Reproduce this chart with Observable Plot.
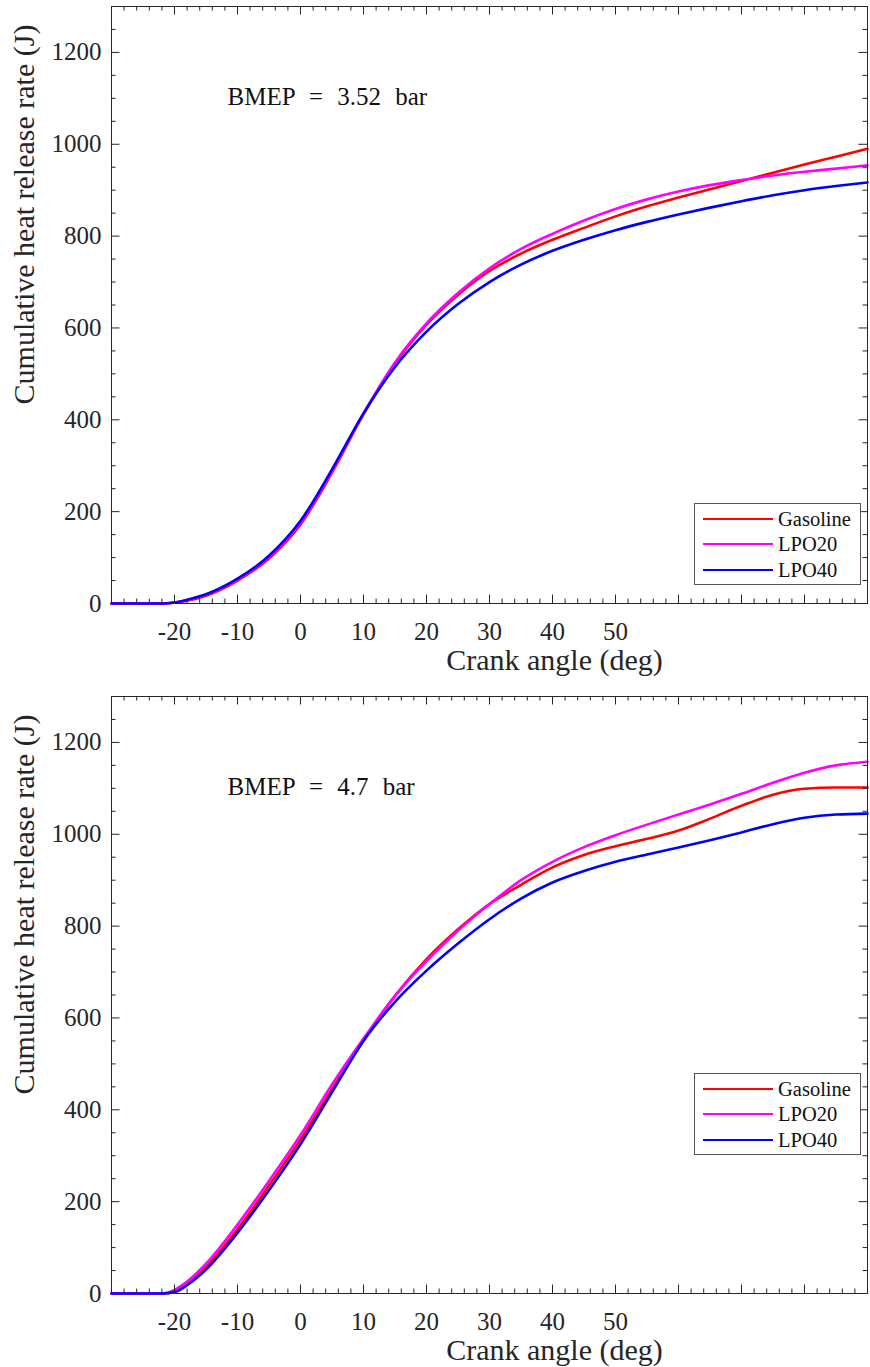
<!DOCTYPE html>
<html>
<head>
<meta charset="utf-8">
<script src="https://cdn.jsdelivr.net/npm/d3@7"></script>
<script src="https://cdn.jsdelivr.net/npm/@observablehq/plot@0.6"></script>
<style>
  html, body { margin: 0; padding: 0; background: #fff; }
  #wrap { position: relative; width: 870px; height: 1367px; overflow: hidden; font-family: "Liberation Serif", "Times New Roman", serif; color: #262626; }
  .panel { position: absolute; left: 0; }
  .panel svg { display: block; overflow: visible; }
  .panel svg text { font-family: "Liberation Serif", "Times New Roman", serif !important; }
  .legend { position: absolute; box-sizing: border-box; border: 1px solid #555; background: #fff; }
  .legend .sw { position: absolute; left: 8px; width: 70px; height: 2.6px; }
  .legend .lb { position: absolute; left: 83px; height: 24px; line-height: 24px; font-size: 20.5px; white-space: nowrap; color: #111; }
</style>
</head>
<body>
<div id="wrap"></div>
<script>
// ---------- data ----------
const angles = [-30, -25, -22, -20, -18, -15, -10, -5, 0, 5, 10, 15, 20, 25, 30, 35, 40, 45, 50, 55, 60, 65, 70, 75, 80, 85, 90];

// Panel 1: BMEP = 3.52 bar
const gasoline1 = [0, 0, 0, 2, 6, 17, 50, 98, 172, 285, 412, 522, 607, 672, 724, 762, 792, 818, 843, 865, 884, 902, 920, 938, 956, 973, 990];
const lpo20_1   = [0, 0, 0, 2, 7, 19, 52, 101, 176, 288, 414, 525, 610, 676, 730, 772, 805, 834, 859, 880, 897, 911, 922, 932, 940, 947, 954];
const lpo40_1   = [0, 0, 0, 2, 8, 20, 54, 104, 180, 292, 414, 515, 592, 652, 700, 738, 768, 792, 813, 831, 847, 862, 876, 889, 900, 909, 917];

// Panel 2: BMEP = 4.7 bar
const gasoline2 = [0, 0, 0, 4, 20, 58, 140, 235, 335, 445, 552, 648, 728, 793, 848, 890, 928, 955, 974, 990, 1008, 1034, 1062, 1086, 1099, 1102, 1102];
const lpo20_2   = [0, 0, 0, 8, 26, 65, 150, 245, 345, 455, 555, 648, 724, 790, 848, 900, 940, 972, 998, 1021, 1043, 1065, 1088, 1112, 1134, 1150, 1158];
const lpo40_2   = [0, 0, 0, 3, 18, 52, 132, 225, 325, 438, 550, 635, 703, 762, 815, 860, 895, 920, 940, 956, 971, 987, 1004, 1022, 1036, 1043, 1045];

const seriesNames  = ["Gasoline", "LPO20", "LPO40"];
const seriesColors = ["#ff0000", "#ff00ff", "#0000ff"];

const xTickValues = [-20, -10, 0, 10, 20, 30, 40, 50];
const xTickLabels = ["-20", "-10", "0", "10", "20", "30", "40", "50"];
const yTickValues = [0, 200, 400, 600, 800, 1000, 1200];
const yTickLabels = ["0", "200", "400", "600", "800", "1000", "1200"];

const xLabel = "Crank angle (deg)";
const yLabel = "Cumulative heat release rate (J)";
const panelTitles = ["BMEP = 3.52 bar", "BMEP = 4.7 bar"];

// ---------- drawing ----------
const axisColor = "#262626";
const serif = "Liberation Serif, Times New Roman, serif";
const innerH = 597;
const innerW = 756;
const xMajor = d3.range(-30, 90.001, 10);
const xMinor = d3.range(-30, 90.001, 2).filter(v => v % 10 !== 0);
const yMajor = d3.range(0, 1300.001, 200);
const yMinor = d3.range(0, 1300.001, 50).filter(v => v % 200 !== 0);

function makePanel(values, title, height, marginBottom) {
  const rows = [];
  seriesNames.forEach((name, s) => {
    angles.forEach((a, i) => rows.push({angle: a, value: values[s][i], series: name}));
  });
  const tk = {stroke: axisColor, strokeWidth: 1};
  return Plot.plot({
    width: 870,
    height,
    marginTop: 6,
    marginBottom,
    marginLeft: 111,
    marginRight: 3,
    x: {domain: [-30, 90], axis: null},
    y: {domain: [0, 1300], axis: null},
    color: {domain: seriesNames, range: seriesColors},
    style: {fontSize: "25px", color: axisColor, background: "transparent", overflow: "visible"},
    marks: [
      Plot.line(rows, {x: "angle", y: "value", z: "series", stroke: "series", strokeWidth: 2.6, curve: "monotone-x"}),
      Plot.frame({stroke: axisColor, strokeWidth: 1}),
      // inward ticks: bottom
      Plot.tickX(xMinor, {x: d => d, insetTop: innerH - 4.5, ...tk}),
      Plot.tickX(xMajor, {x: d => d, insetTop: innerH - 8.5, ...tk}),
      // top
      Plot.tickX(xMinor, {x: d => d, insetBottom: innerH - 4.5, ...tk}),
      Plot.tickX(xMajor, {x: d => d, insetBottom: innerH - 8.5, ...tk}),
      // left
      Plot.tickY(yMinor, {y: d => d, insetRight: innerW - 4.5, ...tk}),
      Plot.tickY(yMajor, {y: d => d, insetRight: innerW - 8.5, ...tk}),
      // right
      Plot.tickY(yMinor, {y: d => d, insetLeft: innerW - 4.5, ...tk}),
      Plot.tickY(yMajor, {y: d => d, insetLeft: innerW - 8.5, ...tk}),
      // tick labels
      Plot.text(xTickValues, {x: d => d, frameAnchor: "bottom", dy: 36, lineAnchor: "bottom", textAnchor: "middle", text: (d, i) => xTickLabels[i], fontSize: 25, fontFamily: serif, fill: axisColor}),
      Plot.text(yTickValues, {y: d => d, frameAnchor: "left", dx: -10, textAnchor: "end", lineAnchor: "middle", text: (d, i) => yTickLabels[i], fontSize: 25, fontFamily: serif, fill: axisColor}),
      // axis titles
      Plot.text([xLabel], {frameAnchor: "bottom", dx: 65, dy: 66, lineAnchor: "bottom", textAnchor: "middle", text: d => d, fontSize: 30, fontFamily: serif, fill: axisColor}),
      Plot.text([yLabel], {frameAnchor: "left", dx: -78, dy: -90.5, rotate: -90, lineAnchor: "bottom", textAnchor: "middle", text: d => d, fontSize: 30, fontFamily: serif, fill: axisColor}),
      // annotation
      Plot.text([title], {frameAnchor: "top-left", dx: 116, dy: 98, textAnchor: "start", lineAnchor: "bottom", text: d => d, fontSize: 25, fontFamily: serif, fill: "#111"})
    ]
  });
}

function makeLegend(top) {
  const box = document.createElement("div");
  box.className = "legend";
  box.style.left = "694px";
  box.style.top = top + "px";
  box.style.width = "167px";
  box.style.height = "82px";
  const rowsY = [15, 40, 66];
  seriesNames.forEach((name, i) => {
    const sw = document.createElement("div");
    sw.className = "sw";
    sw.style.top = (rowsY[i] - 1.3) + "px";
    sw.style.background = seriesColors[i];
    const lb = document.createElement("div");
    lb.className = "lb";
    lb.style.top = (rowsY[i] - 12) + "px";
    lb.textContent = name;
    box.appendChild(sw);
    box.appendChild(lb);
  });
  return box;
}

const wrap = document.getElementById("wrap");
const panels = [
  {values: [gasoline1, lpo20_1, lpo40_1], top: 0, height: 690, mb: 87, legendTop: 503},
  {values: [gasoline2, lpo20_2, lpo40_2], top: 690, height: 677, mb: 74, legendTop: 1073}
];
panels.forEach((p, k) => {
  const div = document.createElement("div");
  div.className = "panel";
  div.style.top = p.top + "px";
  const svg = makePanel(p.values, panelTitles[k], p.height, p.mb);
  div.appendChild(svg);
  wrap.appendChild(div);
  d3.select(svg).selectAll("text").style("font-family", "\"Liberation Serif\", \"Times New Roman\", serif");
  d3.select(svg).selectAll("text").filter(function() { return this.textContent.startsWith("BMEP"); })
    .style("word-spacing", "8px");
  wrap.appendChild(makeLegend(p.legendTop));
});
</script>
</body>
</html>
